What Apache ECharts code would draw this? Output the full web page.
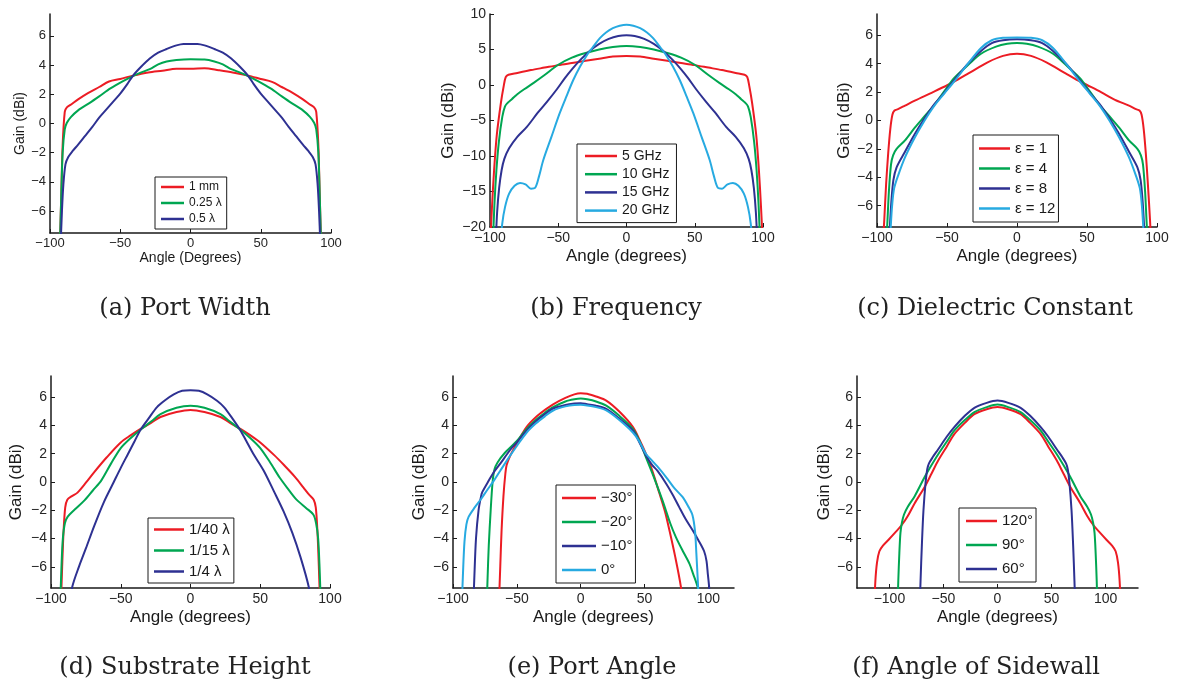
<!DOCTYPE html>
<html>
<head>
<meta charset="utf-8">
<script src="https://cdn.jsdelivr.net/npm/echarts@6/dist/echarts.min.js"></script>
<style>
html,body{margin:0;padding:0;background:#fff;}
#chart{width:1177px;height:688px;}
</style>
</head>
<body>
<div id="chart"></div>
<script>
// ---------- (a) Port Width ----------
const aNames = ['1 mm', '0.25 λ', '0.5 λ'];
const a1mm = [[-93,-8.5],[-92,-5],[-91,-1.5],[-89.5,0.8],[-88,1.1],[-85,1.3],[-80,1.65],[-73,2.08],[-65,2.5],[-58,2.88],[-50,3.05],[-41,3.28],[-30,3.5],[-20,3.62],[-10,3.75],[0,3.75],[10,3.78],[20,3.65],[30,3.5],[41,3.28],[50,3.05],[58,2.85],[65,2.5],[73,2.08],[80,1.65],[85,1.3],[88,1.1],[89.5,0.8],[91,-1.5],[92,-5],[93,-8.5]];
const a025 = [[-93,-8.5],[-92,-5],[-91,-2],[-89.5,-0.4],[-88,0.05],[-85,0.45],[-80,0.9],[-72,1.4],[-65,1.86],[-57,2.4],[-48,2.9],[-41,3.25],[-35,3.5],[-29,3.72],[-23,4.05],[-17,4.25],[-10,4.35],[0,4.4],[10,4.38],[17,4.25],[23,4.05],[29,3.72],[35,3.5],[41,3.25],[48,2.9],[57,2.4],[65,1.86],[72,1.4],[80,0.9],[85,0.45],[88,0.05],[89.5,-0.4],[91,-2],[92,-5],[93,-8.5]];
const a05 = [[-92.5,-8.5],[-91.5,-6],[-90.5,-4.2],[-89,-2.8],[-87,-2.3],[-84,-1.9],[-80,-1.45],[-75,-0.85],[-70,-0.25],[-65,0.4],[-60,0.95],[-55,1.5],[-50,2.05],[-45,2.7],[-41,3.27],[-35,3.9],[-29,4.45],[-23,4.85],[-17,5.1],[-10,5.35],[-5,5.45],[0,5.45],[5,5.45],[10,5.35],[17,5.1],[23,4.85],[29,4.45],[35,3.9],[41,3.27],[45,2.7],[50,2.05],[55,1.5],[60,0.95],[65,0.4],[70,-0.25],[75,-0.85],[80,-1.45],[84,-1.9],[87,-2.3],[89,-2.8],[90.5,-4.2],[91.5,-6],[92.5,-8.5]];

// ---------- (b) Frequency ----------
const bNames = ['5 GHz', '10 GHz', '15 GHz', '20 GHz'];
const b5 = [[-100,-23],[-98.5,-17],[-97,-12],[-95,-7],[-92,-2.5],[-90,-0.2],[-88.5,1.1],[-86.5,1.45],[-80,1.7],[-70,2.1],[-60,2.45],[-50,2.8],[-40,3.1],[-30,3.4],[-20,3.7],[-10,4.0],[0,4.1],[10,4.0],[20,3.7],[30,3.4],[40,3.1],[50,2.8],[60,2.45],[70,2.1],[80,1.7],[86.5,1.45],[88.5,1.1],[90,-0.2],[92,-2.5],[95,-7],[97,-12],[98.5,-17],[100,-23]];
const b10 = [[-98,-23],[-96.8,-17],[-95.3,-12],[-93.5,-8],[-91,-4.5],[-89,-3.0],[-87,-2.5],[-84,-2.0],[-80,-1.3],[-75,-0.6],[-68,0.3],[-60,1.4],[-50,2.85],[-40,3.85],[-30,4.5],[-20,5.0],[-10,5.35],[0,5.5],[10,5.35],[20,5.0],[30,4.5],[40,3.85],[50,2.85],[60,1.4],[68,0.3],[75,-0.6],[80,-1.3],[84,-2.0],[87,-2.5],[89,-3.0],[91,-4.5],[93.5,-8],[95.3,-12],[96.8,-17],[98,-23]];
const b15 = [[-96,-23],[-94.8,-18],[-93.3,-14.5],[-91.5,-12],[-89.5,-10.4],[-86,-8.9],[-80,-7.3],[-73,-5.9],[-65,-3.9],[-58,-2.3],[-51,-0.6],[-45,1.0],[-40,2.2],[-34,3.5],[-27,4.8],[-20,5.8],[-13,6.5],[-6,6.9],[0,7.0],[6,6.9],[13,6.5],[20,5.8],[27,4.8],[34,3.5],[40,2.2],[45,1.0],[51,-0.6],[58,-2.3],[65,-3.9],[73,-5.9],[80,-7.3],[86,-8.9],[89.5,-10.4],[91.5,-12],[93.3,-14.5],[94.8,-18],[96,-23]];
const b20 = [[-92.5,-23],[-91,-19.5],[-89,-17.2],[-86,-15.3],[-82,-14.2],[-78,-13.8],[-74,-14.0],[-70,-14.6],[-67,-14.5],[-64,-12.8],[-61,-10.6],[-55,-7.3],[-49,-4.0],[-44,-1.6],[-39,0.7],[-34,2.6],[-29,4.2],[-24,5.5],[-19.5,6.6],[-15,7.4],[-10,8.0],[-5,8.35],[0,8.5],[5,8.35],[10,8.0],[15,7.4],[19.5,6.6],[24,5.5],[29,4.2],[34,2.6],[39,0.7],[44,-1.6],[49,-4.0],[55,-7.3],[61,-10.6],[64,-12.8],[67,-14.5],[70,-14.6],[74,-14.0],[78,-13.8],[82,-14.2],[86,-15.3],[89,-17.2],[91,-19.5],[92.5,-23]];

// ---------- (c) Dielectric Constant ----------
const cNames = ['ε = 1', 'ε = 4', 'ε = 8', 'ε = 12'];
const c1 = [[-96,-9],[-94.8,-7],[-93.5,-4.5],[-92,-2.3],[-90.5,-0.6],[-89,0.4],[-87.5,0.7],[-85,0.8],[-80,1.05],[-73,1.4],[-60,2.0],[-49.5,2.5],[-42,2.9],[-35,3.3],[-28,3.7],[-21,4.1],[-10,4.55],[0,4.7],[10,4.55],[21,4.1],[28,3.7],[35,3.3],[42,2.9],[50,2.5],[60,2.0],[70,1.45],[80,1.05],[85,0.8],[87.5,0.7],[89,0.4],[90.5,-0.6],[92,-2.3],[93.5,-4.5],[95,-7],[96,-9]];
const c4 = [[-93.5,-9],[-92.5,-7],[-91.5,-5],[-90,-3.1],[-88.5,-2.45],[-86,-2.0],[-80,-1.4],[-73,-0.5],[-66,0.3],[-59,1.1],[-52,2.05],[-44.8,3.0],[-35,3.9],[-25.7,4.7],[-15,5.2],[-7,5.4],[0,5.45],[7,5.4],[15,5.2],[25.7,4.7],[35,3.9],[44.8,3.0],[52,2.05],[59,1.1],[66,0.3],[73,-0.5],[80,-1.4],[86,-2.0],[88.5,-2.45],[90,-3.1],[91.5,-5],[92.5,-7],[93.5,-9]];
const c8 = [[-91.5,-9],[-90.8,-7.5],[-89.8,-5.8],[-88.3,-4.2],[-86,-3.3],[-80,-2.2],[-73,-0.95],[-66,0.15],[-59,1.15],[-52,1.95],[-44.8,2.85],[-35,4.0],[-25.7,4.9],[-18,5.45],[-10,5.65],[0,5.72],[10,5.65],[18,5.45],[25.7,4.9],[35,4.0],[44.8,2.85],[52,1.95],[59,1.15],[66,0.15],[73,-0.95],[80,-2.2],[86,-3.3],[88.3,-4.2],[89.8,-5.8],[90.8,-7.5],[91.5,-9]];
const c12 = [[-91,-9],[-90.2,-7.5],[-89.2,-6],[-87.8,-4.8],[-85,-3.9],[-80,-2.6],[-73,-1.2],[-66,0.0],[-59,1.05],[-52,1.9],[-44.8,2.75],[-35,4.0],[-25.7,5.1],[-18,5.65],[-10,5.82],[0,5.85],[10,5.82],[18,5.65],[25.7,5.1],[35,4.0],[44.8,2.75],[52,1.9],[59,1.05],[66,0.0],[73,-1.2],[80,-2.6],[85,-3.9],[87.8,-4.8],[89.2,-6],[90.2,-7.5],[91,-9]];

// ---------- (d) Substrate Height ----------
const dNames = ['1/40 λ', '1/15 λ', '1/4 λ'];
const d40 = [[-93,-9],[-92,-6],[-91,-3.5],[-89.8,-1.8],[-88.3,-1.25],[-85,-1.0],[-81,-0.75],[-75,-0.05],[-69,0.7],[-60,1.75],[-50,2.8],[-43,3.3],[-35.8,3.76],[-28,4.2],[-21.5,4.6],[-10,4.95],[0,5.1],[10,4.95],[21.5,4.6],[28,4.2],[35.8,3.76],[43,3.3],[50,2.8],[60,1.9],[67,1.2],[75,0.35],[81,-0.4],[85,-0.9],[88.3,-1.25],[89.8,-1.8],[91,-3.5],[92,-6],[93,-9]];
const d15 = [[-93.5,-9],[-92.5,-6],[-91.5,-4],[-90,-2.9],[-88,-2.45],[-83,-1.95],[-76,-1.3],[-70,-0.6],[-64,0.1],[-57,1.3],[-50,2.4],[-43,3.1],[-35.8,3.7],[-28,4.3],[-21.5,4.8],[-10,5.25],[0,5.4],[10,5.25],[21.5,4.8],[28,4.3],[35.8,3.7],[43,3.1],[50,2.4],[57,1.4],[64,0.3],[70,-0.5],[76,-1.25],[83,-1.85],[88,-2.3],[90,-2.9],[91.5,-4],[92.5,-6],[93.5,-9]];
const d4 = [[-87,-9],[-84.7,-7.4],[-80,-6.0],[-75,-4.7],[-69,-3.1],[-62,-1.4],[-55,0.0],[-50,1.0],[-45,1.95],[-40,2.9],[-35.8,3.7],[-30,4.5],[-24,5.3],[-18,5.8],[-12,6.2],[-6,6.45],[0,6.5],[6,6.45],[12,6.2],[19,5.75],[24,5.3],[30,4.5],[35.8,3.65],[40,2.9],[45,2.0],[52.5,0.8],[60,-0.7],[66.8,-2.1],[73,-3.6],[78.8,-5.3],[84.7,-7.4],[87,-9]];

// ---------- (e) Port Angle ----------
const eNames = ['−30°', '−20°', '−10°', '0°'];
const e30 = [[-64,-8.5],[-63,-6],[-62,-3.5],[-60.5,-1],[-59,0.6],[-58,1.2],[-55,1.9],[-50,2.75],[-42.3,3.9],[-35,4.6],[-28,5.1],[-21.6,5.5],[-12,5.95],[-5,6.2],[0,6.28],[5,6.25],[12,6.05],[20,5.76],[30,5.0],[40.8,3.9],[46,3.0],[51,2.0],[56,0.8],[61.6,-0.8],[66,-2.1],[69.4,-3.4],[74,-5.3],[78.4,-7.4],[79.5,-8.5]];
const e20 = [[-73.5,-8.5],[-73,-7],[-72,-4.5],[-70.5,-2],[-69,0],[-67.5,0.9],[-65,1.4],[-60,2.0],[-50,2.9],[-42.3,3.76],[-35,4.4],[-28,4.9],[-21.6,5.3],[-12,5.7],[-5,5.85],[0,5.9],[5,5.85],[12,5.7],[20,5.4],[30,4.7],[40.8,3.76],[46,2.9],[51,1.76],[57,0.4],[64,-1.3],[70,-2.9],[74.5,-3.9],[80,-4.9],[85,-5.76],[88,-6.5],[91.4,-7.4],[93,-8.5]];
const e10 = [[-84,-8.5],[-83.4,-7],[-82,-4],[-80,-2],[-78,-1],[-77,-0.7],[-72,0.1],[-68,0.7],[-63,1.3],[-55,2.3],[-50,2.8],[-42.3,3.65],[-35,4.3],[-28,4.8],[-21.6,5.2],[-12,5.45],[-5,5.55],[0,5.58],[5,5.5],[12,5.4],[20,5.18],[30,4.5],[40.8,3.65],[46,2.8],[51,1.88],[56,1.2],[60,0.8],[66.8,-0.1],[72,-0.9],[77,-1.76],[82,-2.6],[87.5,-3.4],[92,-4.1],[96.6,-4.9],[98.5,-5.6],[99.5,-6.5],[100.5,-7.4],[101,-8.5]];
const e0 = [[-93,-8.5],[-92.2,-6.5],[-91,-4.2],[-89.5,-3.0],[-87.8,-2.47],[-83,-1.8],[-78,-1.2],[-73.5,-0.6],[-68,0.1],[-63,0.8],[-55,1.9],[-50,2.55],[-42.3,3.5],[-35,4.15],[-28,4.65],[-21.6,5.06],[-12,5.35],[-5,5.45],[0,5.46],[5,5.42],[12,5.3],[20,5.06],[30,4.4],[40.8,3.5],[46,2.85],[51,2.0],[56,1.5],[60,1.1],[66.8,0.35],[73,-0.4],[79.7,-1.06],[84,-1.7],[87.5,-2.35],[89.5,-3.5],[90.5,-5],[91.5,-6.7],[92.5,-8.5]];

// ---------- (f) Angle of Sidewall ----------
const fNames = ['120°', '90°', '60°'];
const f120 = [[-114,-9],[-113,-7],[-111.5,-5.7],[-109.3,-4.9],[-106,-4.5],[-101,-4.1],[-95,-3.6],[-88.8,-3.06],[-83,-2.4],[-76.6,-1.5],[-67.4,-0.35],[-61,0.6],[-55,1.5],[-47,2.5],[-39.8,3.4],[-30,4.2],[-21.4,4.8],[-10,5.15],[0,5.3],[10,5.15],[21.4,4.8],[30,4.2],[39.8,3.4],[47,2.5],[55,1.5],[61,0.6],[67.4,-0.35],[76.6,-1.5],[83,-2.4],[88.8,-3.06],[95,-3.6],[101,-4.1],[106,-4.5],[109.3,-4.9],[111.5,-5.7],[113,-7],[114,-9]];
const f90 = [[-92.5,-9],[-91.8,-7],[-90.8,-5],[-89.8,-3.6],[-88.5,-2.9],[-86.5,-2.3],[-83,-1.75],[-76.6,-1.0],[-67.4,0.35],[-61,1.2],[-55,1.95],[-47,2.85],[-39.8,3.65],[-30,4.4],[-21.4,4.95],[-10,5.3],[0,5.48],[10,5.3],[21.4,4.95],[30,4.4],[39.8,3.65],[47,2.85],[55,1.95],[61,1.2],[67.4,0.35],[76.6,-1.0],[83,-1.75],[86.5,-2.3],[88.5,-2.9],[89.8,-3.6],[90.8,-5],[91.8,-7],[92.5,-9]];
const f60 = [[-72,-9],[-71.2,-7],[-70,-4.5],[-68.5,-2],[-66.5,0.0],[-65,0.9],[-63.5,1.3],[-60,1.75],[-55,2.3],[-47,3.2],[-39.8,3.9],[-30,4.7],[-21.4,5.25],[-10,5.6],[0,5.76],[10,5.6],[21.4,5.25],[30,4.7],[39.8,3.9],[47,3.2],[55,2.3],[60,1.75],[63.5,1.3],[65,0.9],[66.5,0.0],[68.5,-2],[70,-4.5],[71.2,-7],[72,-9]];

// ---------- ticks / labels ----------
const xTicks = [-100, -50, 0, 50, 100];
const yTicksSmall = [-6, -4, -2, 0, 2, 4, 6];
const captions = ['(a) Port Width', '(b) Frequency', '(c) Dielectric Constant', '(d) Substrate Height', '(e) Port Angle', '(f) Angle of Sidewall'];
const xTitles = ['Angle (Degrees)', 'Angle (degrees)', 'Angle (degrees)', 'Angle (degrees)', 'Angle (degrees)', 'Angle (degrees)'];
const yTitle = 'Gain (dBi)';

const RED = '#ec1c24', GREEN = '#00a651', BLUE = '#2e3192', CYAN = '#27aae1';

const panels = [
  { names: aNames, data: [a1mm, a025, a05], colors: [RED, GREEN, BLUE], x: [-100, 100], y: [-7.5, 7.5], yTicks: yTicksSmall },
  { names: bNames, data: [b5, b10, b15, b20], colors: [RED, GREEN, BLUE, CYAN], x: [-100, 100], y: [-20, 10], yTicks: [-20, -15, -10, -5, 0, 5, 10] },
  { names: cNames, data: [c1, c4, c8, c12], colors: [RED, GREEN, BLUE, CYAN], x: [-100, 100], y: [-7.5, 7.5], yTicks: yTicksSmall },
  { names: dNames, data: [d40, d15, d4], colors: [RED, GREEN, BLUE], x: [-100, 100], y: [-7.5, 7.5], yTicks: yTicksSmall },
  { names: eNames, data: [e30, e20, e10, e0], colors: [RED, GREEN, BLUE, CYAN], x: [-100, 120], y: [-7.5, 7.5], yTicks: yTicksSmall },
  { names: fNames, data: [f120, f90, f60], colors: [RED, GREEN, BLUE], x: [-130, 130], y: [-7.5, 7.5], yTicks: yTicksSmall }
];

// layout (pixels)
const gridPos = [
  { left: 50, top: 14, width: 281, height: 219 },
  { left: 490, top: 14, width: 273, height: 213 },
  { left: 877, top: 14, width: 280, height: 213 },
  { left: 51, top: 376, width: 279, height: 212 },
  { left: 453, top: 376, width: 281, height: 212 },
  { left: 857, top: 376, width: 281, height: 212 }
];
const tickFont = [13, 14, 14, 14, 14, 14];
const nameFont = [14, 17, 17, 17, 17, 17];
const xNameGap = [18, 21, 21, 21, 21, 21];
const yNameGap = [22, 33, 22, 26, 25, 23];
const legendPos = [
  { left: 155, top: 177, itemWidth: 23, fontSize: 12, lineHeight: 14, itemGap: 2, padding: [3, 5, 3, 6] },
  { left: 577, top: 144, itemWidth: 32, fontSize: 14, lineHeight: 16, itemGap: 2.2, padding: [4, 7, 4, 8] },
  { left: 973, top: 135, itemWidth: 31, fontSize: 15, lineHeight: 17, itemGap: 3, padding: [5, 3, 5, 6] },
  { left: 148, top: 518, itemWidth: 30, fontSize: 15, lineHeight: 17, itemGap: 4, padding: [3, 4, 3, 6] },
  { left: 556, top: 485, itemWidth: 34, fontSize: 15, lineHeight: 18, itemGap: 6, padding: [4, 3, 4, 6] },
  { left: 959, top: 508, itemWidth: 31, fontSize: 15, lineHeight: 18, itemGap: 6, padding: [4, 3, 4, 7] }
];
const captionPos = [[185, 309], [616, 309], [995, 309], [185, 668], [592, 668], [976, 668]];

const minusFmt = v => (v < 0 ? '\u2212' + Math.abs(v) : String(v));
const AX = '#1a1a1a';
const SANS = '"Liberation Sans", Arial, sans-serif';

const option = {
  backgroundColor: '#fff',
  animation: false,
  grid: [], xAxis: [], yAxis: [], series: [], legend: [], graphic: []
};

panels.forEach((p, i) => {
  option.grid.push(Object.assign({ containLabel: false }, gridPos[i]));
  option.xAxis.push({
    type: 'value', gridIndex: i, min: p.x[0], max: p.x[1],
    name: xTitles[i], nameLocation: 'middle', nameGap: xNameGap[i],
    nameTextStyle: { fontSize: nameFont[i], color: AX, fontFamily: SANS },
    axisLine: { onZero: false, lineStyle: { color: AX, width: 1.5 } },
    axisTick: { inside: true, length: 4, customValues: xTicks, lineStyle: { color: AX, width: 1 } },
    axisLabel: { customValues: xTicks, formatter: minusFmt, fontSize: tickFont[i], color: '#262626', fontFamily: SANS, margin: 4 },
    splitLine: { show: false }
  });
  option.yAxis.push({
    type: 'value', gridIndex: i, min: p.y[0], max: p.y[1],
    name: yTitle, nameLocation: 'middle', nameGap: yNameGap[i],
    nameTextStyle: { fontSize: nameFont[i], color: AX, fontFamily: SANS },
    axisLine: { show: true, onZero: false, lineStyle: { color: AX, width: 1.5 } },
    axisTick: { show: true, inside: true, length: 4, customValues: p.yTicks, lineStyle: { color: AX, width: 1 } },
    axisLabel: { customValues: p.yTicks, formatter: minusFmt, fontSize: tickFont[i], color: '#262626', fontFamily: SANS, margin: 4 },
    splitLine: { show: false }
  });
  p.names.forEach((n, k) => {
    option.series.push({
      type: 'line', name: n, xAxisIndex: i, yAxisIndex: i,
      data: p.data[k], showSymbol: false, symbol: 'none',
      smooth: 0.3, clip: true,
      lineStyle: { color: p.colors[k], width: 2 },
      itemStyle: { color: p.colors[k] }
    });
  });
  const L = legendPos[i];
  option.legend.push({
    data: p.names, left: L.left, top: L.top, orient: 'vertical',
    icon: 'rect', itemWidth: L.itemWidth, itemHeight: 2.5, itemGap: L.itemGap,
    padding: L.padding, selectedMode: false,
    borderColor: AX, borderWidth: 1, backgroundColor: '#fff',
    textStyle: { fontSize: L.fontSize, lineHeight: L.lineHeight, color: '#1a1a1a', fontFamily: SANS }
  });
  option.graphic.push({
    type: 'text', x: captionPos[i][0], y: captionPos[i][1],
    style: { text: captions[i], fontSize: 24, fontFamily: '"DejaVu Serif", serif', fill: '#222', align: 'center', verticalAlign: 'middle' }
  });
});

const chart = echarts.init(document.getElementById('chart'), null, { renderer: 'canvas' });
chart.setOption(option);
</script>
</body>
</html>
